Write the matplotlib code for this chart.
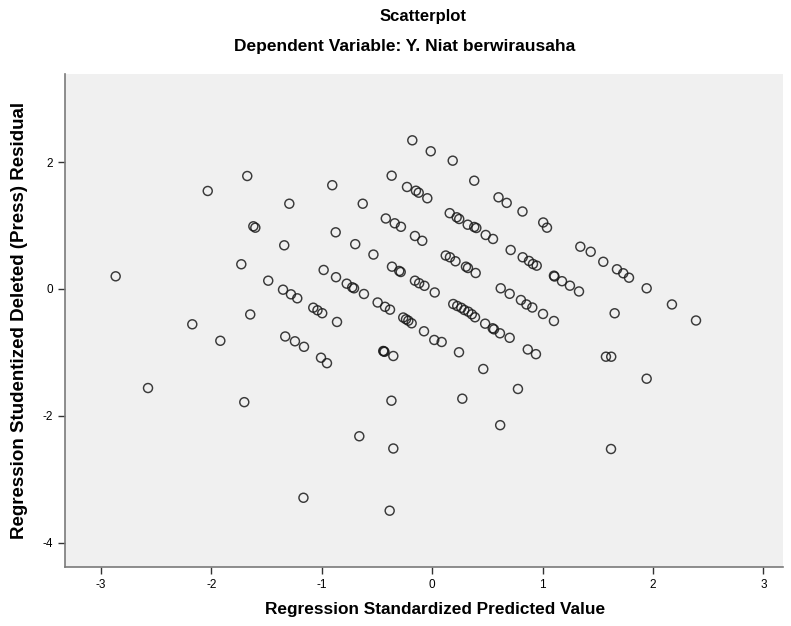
import matplotlib
matplotlib.use("Agg")
import matplotlib.pyplot as plt

plt.rcParams['font.family'] = ['Liberation Sans', 'DejaVu Sans']

# regression standardized predicted value
pred = [
    -2.868, -2.034, -1.676, -1.295, -1.621, -1.603, -1.341, -1.730, -1.486, -1.352,
    -1.280, -1.223, -1.649, -2.174, -1.920, -1.332, -1.244, -1.162, -2.575, -1.703,
    -1.167, -0.906, -0.630, -0.875, -0.698, -0.533, -0.984, -0.872, -0.775, -0.725,
    -0.709, -0.619, -1.078, -1.040, -0.997, -0.863, -1.008, -0.954, -0.661, -0.181,
    -0.014, 0.185, 0.380, -0.368, -0.229, -0.148, -0.123, -0.045, 0.600, 0.674,
    0.817, 1.005, 1.039, -0.421, -0.340, -0.284, -0.157, -0.091, 0.158, 0.221,
    0.244, 0.321, 0.380, 0.399, 0.484, 0.550, -0.365, -0.299, -0.286, -0.157,
    -0.119, -0.071, 0.022, 0.122, 0.160, 0.210, 0.305, 0.323, 0.393, 0.710,
    0.819, 0.876, 0.912, 0.946, 0.620, 0.701, 0.803, 0.853, 0.906, 1.003,
    -0.495, -0.428, -0.383, -0.263, -0.238, -0.217, -0.187, -0.075, 0.018, 0.085,
    -0.444, -0.433, -0.439, -0.353, -0.370, -0.353, -0.386, 0.190, 0.226, 0.263,
    0.290, 0.326, 0.358, 0.387, 0.479, 0.547, 0.559, 0.613, 0.701, 0.242,
    0.462, 0.272, 0.776, 0.615, 0.865, 0.939, 1.341, 1.435, 1.549, 1.673,
    1.730, 1.782, 1.942, 2.171, 2.389, 1.102, 1.107, 1.175, 1.247, 1.329,
    1.102, 1.652, 1.573, 1.621, 1.942, 1.619,
]

# regression studentized deleted (press) residual
resid = [
    0.200, 1.546, 1.782, 1.345, 0.989, 0.967, 0.689, 0.390, 0.131, -0.011,
    -0.084, -0.147, -0.402, -0.557, -0.817, -0.749, -0.825, -0.912, -1.562, -1.785,
    -3.293, 1.637, 1.345, 0.894, 0.707, 0.543, 0.300, 0.186, 0.084, 0.027,
    0.011, -0.079, -0.295, -0.336, -0.382, -0.520, -1.084, -1.170, -2.323, 2.345,
    2.172, 2.024, 1.708, 1.787, 1.609, 1.550, 1.519, 1.431, 1.446, 1.358,
    1.222, 1.049, 0.967, 1.112, 1.036, 0.981, 0.836, 0.760, 1.196, 1.131,
    1.104, 1.014, 0.978, 0.962, 0.852, 0.789, 0.352, 0.284, 0.268, 0.131,
    0.091, 0.050, -0.055, 0.528, 0.500, 0.437, 0.352, 0.331, 0.252, 0.615,
    0.500, 0.442, 0.394, 0.368, 0.011, -0.076, -0.174, -0.244, -0.292, -0.394,
    -0.213, -0.281, -0.326, -0.450, -0.478, -0.500, -0.541, -0.667, -0.804, -0.836,
    -0.978, -0.991, -0.983, -1.057, -1.762, -2.516, -3.497, -0.237, -0.268, -0.297,
    -0.331, -0.358, -0.399, -0.446, -0.547, -0.620, -0.636, -0.699, -0.770, -0.998,
    -1.262, -1.730, -1.577, -2.148, -0.954, -1.028, 0.667, 0.587, 0.429, 0.311,
    0.248, 0.178, 0.011, -0.244, -0.497, 0.210, 0.197, 0.123, 0.052, -0.039,
    -0.505, -0.383, -1.068, -1.068, -1.415, -2.524,
]

x_ticks = [-3, -2, -1, 0, 1, 2, 3]
y_ticks = [-4, -2, 0, 2]

fig = plt.figure(figsize=(7.91, 6.26), dpi=100)
ax = fig.add_axes([65 / 791, 59 / 626, 718 / 791, 493 / 626])
ax.set_facecolor('#f0f0f0')

ax.scatter(pred, resid, s=42, facecolors='none', edgecolors='#1a1a1a',
           linewidths=1.05, alpha=0.85)

ax.set_xlim(-3.327, 3.177)
ax.set_ylim(-4.385, 3.391)
ax.set_xticks(x_ticks)
ax.set_yticks(y_ticks)
ax.set_xticklabels([str(v) for v in x_ticks])
ax.set_yticklabels([str(v) for v in y_ticks])
ax.tick_params(axis='both', length=5, width=1, color='#333333',
               labelsize=8.5, direction='out')

for side in ['top', 'right']:
    ax.spines[side].set_visible(False)
for side in ['left', 'bottom']:
    ax.spines[side].set_color('#7a7a7a')
    ax.spines[side].set_linewidth(1.2)

ax.set_xlabel('Regression Standardized Predicted Value', fontsize=12.4,
              fontweight='bold')
ax.xaxis.set_label_coords(0.515, -0.07)
ax.set_ylabel('Regression Studentized Deleted (Press) Residual', fontsize=13.5,
              fontweight='bold')
ax.yaxis.set_label_coords(-0.052, 0.5)

fig.text(423 / 791, 1 - 17 / 626, 'Scatterplot', ha='center', va='center',
         fontsize=12, fontweight='bold')
fig.text(405 / 791, 1 - 46 / 626, 'Dependent Variable: Y. Niat berwirausaha',
         ha='center', va='center', fontsize=12.5, fontweight='bold')

fig.savefig('out.png', dpi=100)
